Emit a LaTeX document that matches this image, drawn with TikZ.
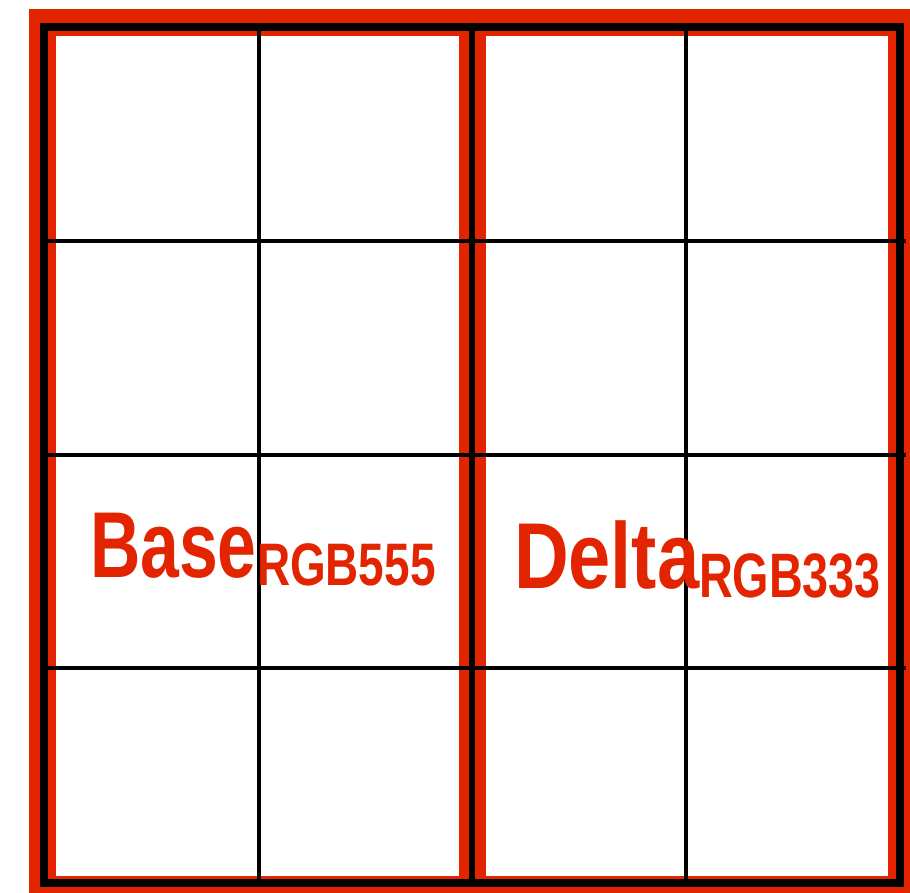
\documentclass[tikz,border=0pt]{standalone}
\usepackage{fontspec}
\setmainfont{Liberation Sans}
\definecolor{redc}{RGB}{226,36,0}
\tikzset{
  lbl/.style={anchor=base west, inner sep=0pt, outer sep=0pt, text=redc, font=\bfseries},
  gridthin/.style={line width=4.5pt, black},
}
\begin{document}
\begin{tikzpicture}[x=1pt,y=-1pt]
\useasboundingbox (0,0) rectangle (910,893);
\fill[white] (0,0) rectangle (910,893);
\begin{scope}
\clip (0,0) rectangle (910,893);
% red frame
\fill[redc] (29,9.5) rectangle (916,899);
\fill[white] (56,36) rectangle (459,876);
\fill[white] (486,36) rectangle (888,876);
% black grid
\draw[gridthin] (259,27) -- (259,883);
\draw[gridthin] (686,27) -- (686,883);
\draw[gridthin] (48,241) -- (906,241);
\draw[gridthin] (48,455) -- (906,455);
\draw[gridthin] (48,668) -- (906,668);
\draw[line width=6pt] (472,27) -- (472,883);
\draw[line width=8pt] (44,27) rectangle (900,883);
\end{scope}
% labels
\node[lbl, font=\bfseries\fontsize{93.6}{93.6}\selectfont] (base) at (90,577) {\scalebox{0.745}[1]{Base}};
\node[lbl, font=\bfseries\fontsize{60}{60}\selectfont] (rgb555) at (257,585) {\scalebox{0.765}[1]{RGB555}};
\node[lbl, font=\bfseries\fontsize{93.6}{93.6}\selectfont] (delta) at (514,588) {\scalebox{0.81}[1]{Delta}};
\node[lbl, font=\bfseries\fontsize{62.8}{62.8}\selectfont] (rgb333) at (699,597) {\scalebox{0.745}[1]{RGB333}};
\end{tikzpicture}
\end{document}
